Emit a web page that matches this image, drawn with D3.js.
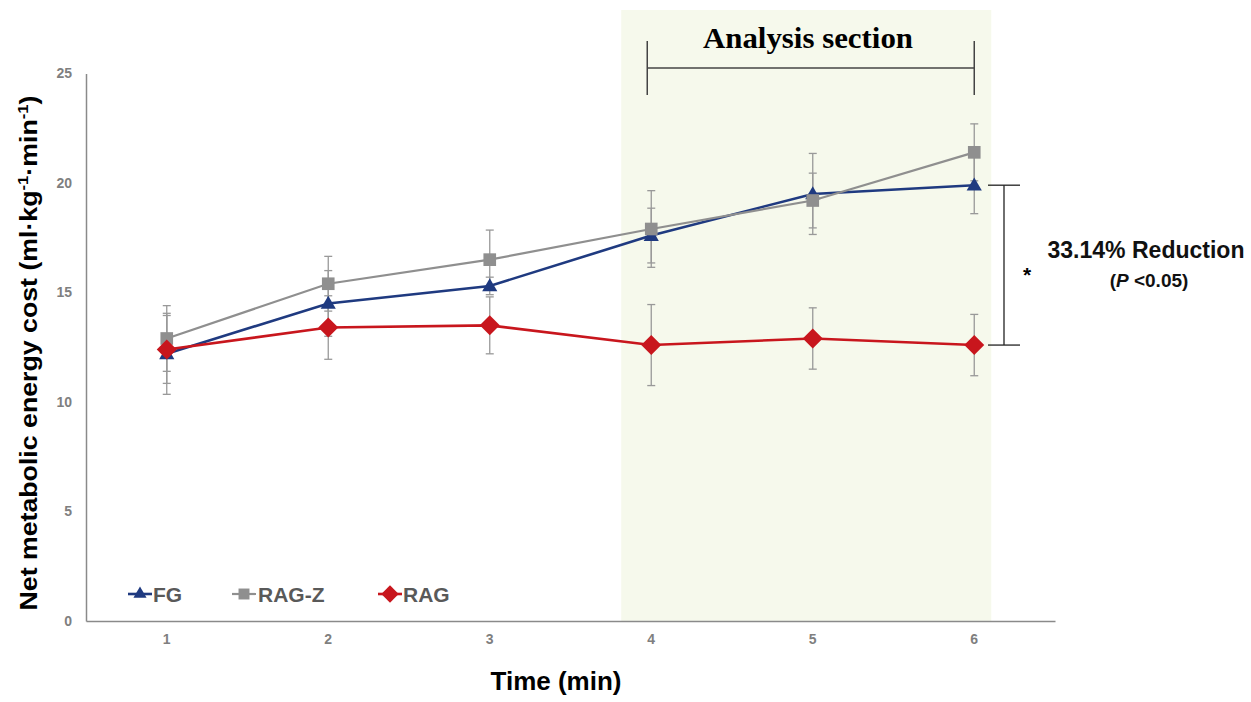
<!DOCTYPE html>
<html><head><meta charset="utf-8">
<script src="https://cdn.jsdelivr.net/npm/d3@7"></script>
<style>body{margin:0;background:#fff}svg{display:block}</style>
</head><body>
<script>
const times = [1,2,3,4,5,6];
const yTicks = [0,5,10,15,20,25];
const fg = [12.2,14.5,15.3,17.6,19.5,19.9];
const fgErr = [1.85,1.5,0.4,1.25,1.85,1.3];
const ragz = [12.9,15.4,16.5,17.9,19.2,21.4];
const ragzErr = [1.5,1.25,1.35,1.75,1.25,1.3];
const rag = [12.4,13.4,13.5,12.6,12.9,12.6];
const ragErr = [1.55,1.45,1.3,1.85,1.4,1.4];
const seriesNames = ["FG","RAG-Z","RAG"];

const W=1251,H=702;
const AR="Arial, 'Liberation Sans', sans-serif";
const svg=d3.select("body").append("svg").attr("width",W).attr("height",H);
const x=d3.scaleBand().domain(times).range([86,1055]);
const cx=d=>x(d)+x.bandwidth()/2;
const y=d3.scaleLinear().domain([0,25]).range([621,73.5]);

// shaded analysis region
svg.append("rect").attr("x",cx(4)-30).attr("y",10).attr("width",cx(6)+17-(cx(4)-30)).attr("height",y(0)-10)
  .attr("fill","#f6f9ec");

// axes
const xa=svg.append("g").attr("transform",`translate(0,${y(0)})`).call(d3.axisBottom(x).tickSize(0).tickPadding(13));
const ya=svg.append("g").attr("transform","translate(86,0)").call(d3.axisLeft(y).tickValues(yTicks).tickSize(0).tickPadding(14));
[xa,ya].forEach(g=>{
  g.select(".domain").attr("stroke","#8a8a8a").attr("stroke-width",1.5);
  g.selectAll("text").attr("fill","#7f7f7f").attr("font-family",AR).attr("font-weight","bold").attr("font-size",14);
});

const diamond={draw(ctx,size){const r=Math.sqrt(size/2);ctx.moveTo(0,-r);ctx.lineTo(r,0);ctx.lineTo(0,r);ctx.lineTo(-r,0);ctx.closePath();}};
const series=[
  {name:seriesNames[0],v:fg,e:fgErr,color:"#1f3a80",lw:2.6,shape:d3.symbolTriangle,size:100},
  {name:seriesNames[1],v:ragz,e:ragzErr,color:"#8f8f8f",lw:2.2,shape:d3.symbolSquare,size:160},
  {name:seriesNames[2],v:rag,e:ragErr,color:"#c8161d",lw:2.6,shape:diamond,size:200}
];

// error bars
series.forEach(s=>{
  const g=svg.append("g").attr("stroke","#999").attr("stroke-width",1.3);
  times.forEach((t,i)=>{
    const X=cx(t), t0=y(s.v[i]+s.e[i]), b0=y(s.v[i]-s.e[i]);
    g.append("line").attr("x1",X).attr("x2",X).attr("y1",t0).attr("y2",b0);
    g.append("line").attr("x1",X-4).attr("x2",X+4).attr("y1",t0).attr("y2",t0);
    g.append("line").attr("x1",X-4).attr("x2",X+4).attr("y1",b0).attr("y2",b0);
  });
});

// lines & markers
series.forEach(s=>{
  const line=d3.line().x((d,i)=>cx(times[i])).y(d=>y(d));
  svg.append("path").datum(s.v).attr("d",line).attr("fill","none").attr("stroke",s.color).attr("stroke-width",s.lw);
  svg.append("g").selectAll("path").data(s.v).join("path")
    .attr("transform",(d,i)=>`translate(${cx(times[i])},${y(d)+(s.shape===d3.symbolTriangle?1:0)})`)
    .attr("d",d3.symbol().type(s.shape).size(s.size)).attr("fill",s.color);
});

// legend
const legX=[128,232,378];
series.forEach((s,i)=>{
  const g=svg.append("g").attr("transform",`translate(${legX[i]},594)`);
  g.append("line").attr("x1",0).attr("x2",24).attr("stroke",s.color).attr("stroke-width",s.lw);
  g.append("path").attr("transform","translate(12,0)").attr("d",d3.symbol().type(s.shape).size(s.size*0.75)).attr("fill",s.color);
  g.append("text").attr("x",i===1?26:25).attr("y",7.5).text(s.name).attr("fill","#595959")
    .attr("font-family",AR).attr("font-weight","bold").attr("font-size",21);
});

// axis titles
svg.append("text").attr("transform","translate(37,353) rotate(-90)").attr("text-anchor","middle")
  .attr("font-family",AR).attr("font-weight","bold").attr("font-size",24).attr("fill","#000")
  .attr("textLength",515).attr("lengthAdjust","spacingAndGlyphs")
  .html('Net metabolic energy cost (ml·kg<tspan dy="-9" font-size="15">-1</tspan><tspan dy="9">·min</tspan><tspan dy="-9" font-size="15">-1</tspan><tspan dy="9">)</tspan>');
svg.append("text").attr("x",556).attr("y",690).attr("text-anchor","middle")
  .attr("font-family",AR).attr("font-weight","bold").attr("font-size",25)
  .attr("textLength",131).attr("lengthAdjust","spacingAndGlyphs").text("Time (min)");

// analysis section bracket
const br=svg.append("g").attr("stroke","#444").attr("stroke-width",1.5);
br.append("line").attr("x1",cx(4)-4).attr("x2",cx(6)).attr("y1",68).attr("y2",68);
br.append("line").attr("x1",cx(4)-4).attr("x2",cx(4)-4).attr("y1",41).attr("y2",95);
br.append("line").attr("x1",cx(6)).attr("x2",cx(6)).attr("y1",41).attr("y2",95);
svg.append("text").attr("x",808).attr("y",48).attr("text-anchor","middle")
  .attr("font-family","'Liberation Serif','Times New Roman',serif").attr("font-weight","bold").attr("font-size",30)
  .attr("textLength",210).attr("lengthAdjust","spacingAndGlyphs").text("Analysis section");

// reduction bracket
const rb=svg.append("g").attr("stroke","#222").attr("stroke-width",1.3);
const yTop=y(fg[5]), yBot=y(rag[5]);
rb.append("line").attr("x1",1004).attr("x2",1004).attr("y1",yTop).attr("y2",yBot);
rb.append("line").attr("x1",988).attr("x2",1020).attr("y1",yTop).attr("y2",yTop);
rb.append("line").attr("x1",988).attr("x2",1020).attr("y1",yBot).attr("y2",yBot);
svg.append("text").attr("x",1027).attr("y",282).attr("text-anchor","middle")
  .attr("font-family",AR).attr("font-weight","bold").attr("font-size",21).text("*");
svg.append("text").attr("x",1146).attr("y",258).attr("text-anchor","middle")
  .attr("font-family",AR).attr("font-weight","bold").attr("font-size",23).attr("fill","#111")
  .attr("textLength",197).attr("lengthAdjust","spacingAndGlyphs").text("33.14% Reduction");
svg.append("text").attr("x",1149).attr("y",287).attr("text-anchor","middle")
  .attr("font-family",AR).attr("font-weight","bold").attr("font-size",19).attr("fill","#111")
  .html('(<tspan font-style="italic">P</tspan> &lt;0.05)');
</script>
</body></html>
